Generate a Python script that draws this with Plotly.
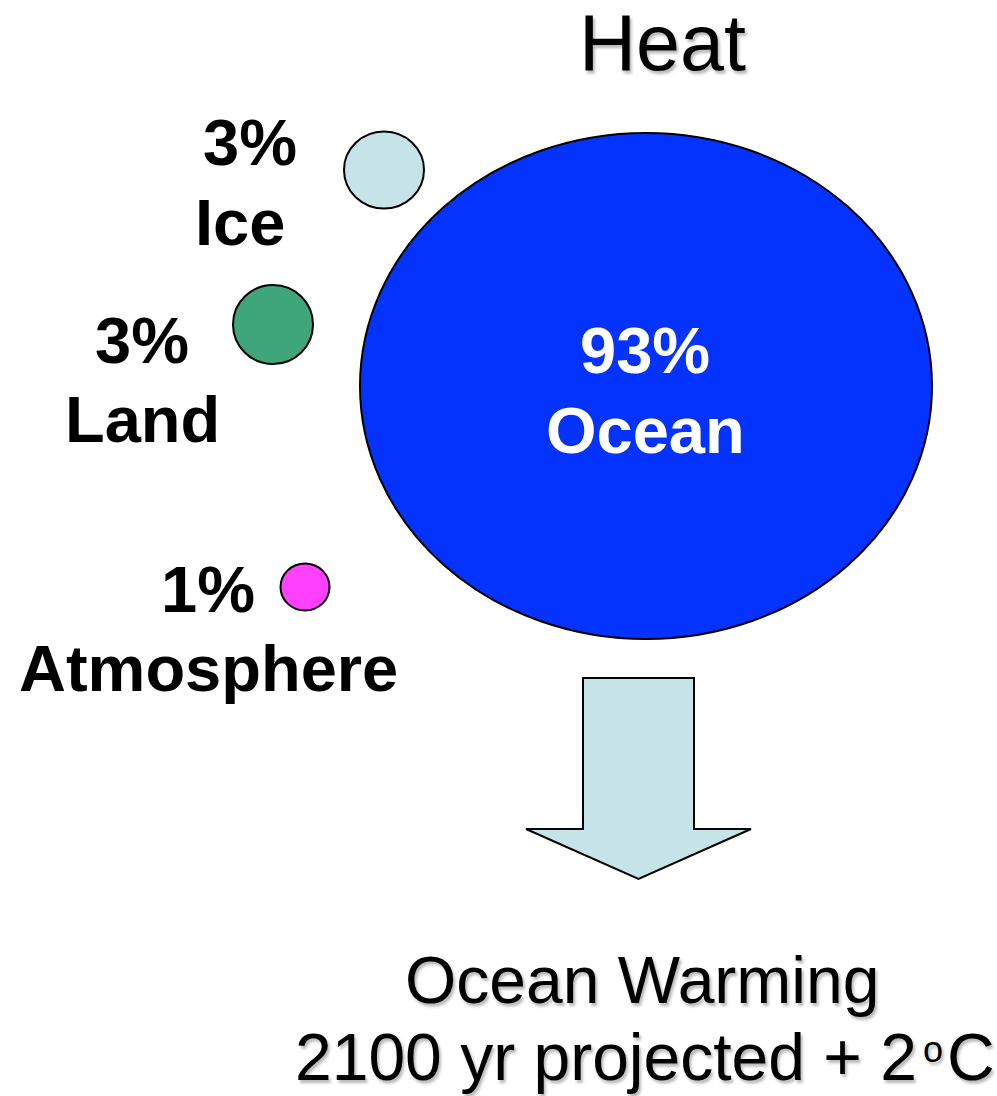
import plotly.graph_objects as go

# Share of the extra heat taken up by each part of the climate system
categories = ["Ocean", "Ice", "Land", "Atmosphere"]
heat_share = [93, 3, 3, 1]

title_text = "Heat"
outcome_title = "Ocean Warming"
outcome_main = "2100 yr projected + 2"
outcome_degree = "o"
outcome_unit = "C"

W, H = 997, 1096

# Bubble geometry (centre, radii) and styling per reservoir, in pixel space
bubbles = {
    "Ocean":      dict(cx=646, cy=386, rx=286, ry=253, fill="#0433FF"),
    "Ice":        dict(cx=384, cy=170, rx=40, ry=38.5, fill="#C6E4E7"),
    "Land":       dict(cx=273, cy=324.5, rx=40, ry=39.5, fill="#3EA679"),
    "Atmosphere": dict(cx=305, cy=587, rx=24.5, ry=23.5, fill="#FF40FF"),
}

# Label placement: (x of percentage, y of percentage, x of name, y of name, colour)
label_pos = {
    "Ocean":      (645, 350, 645, 430, "white"),
    "Ice":        (250, 142, 240, 222, "black"),
    "Land":       (142, 340, 142, 419, "black"),
    "Atmosphere": (208, 589, 208, 668, "black"),
}

FONT = "Liberation Sans, Arial, sans-serif"
SHADOW = "2px 3px 3px rgba(0,0,0,0.28)"

fig = go.Figure()

shapes = []
for name in categories:
    b = bubbles[name]
    shapes.append(dict(
        type="circle", xref="x", yref="y",
        x0=b["cx"] - b["rx"], x1=b["cx"] + b["rx"],
        y0=b["cy"] - b["ry"], y1=b["cy"] + b["ry"],
        fillcolor=b["fill"], line=dict(color="black", width=2),
        layer="below",
    ))

# Downward block arrow below the ocean bubble
shaft_l, shaft_r, shaft_top, shaft_bot = 583, 694, 678, 829
head_l, head_r, tip_x, tip_y = 526, 751, 638.5, 879
arrow_path = (
    f"M {shaft_l} {shaft_top} L {shaft_r} {shaft_top} L {shaft_r} {shaft_bot} "
    f"L {head_r} {shaft_bot} L {tip_x} {tip_y} L {head_l} {shaft_bot} "
    f"L {shaft_l} {shaft_bot} Z"
)
shapes.append(dict(type="path", xref="x", yref="y", path=arrow_path,
                   fillcolor="#C6E4E7", line=dict(color="black", width=2),
                   layer="below"))

annotations = []
for name, share in zip(categories, heat_share):
    xp, yp, xn, yn, col = label_pos[name]
    for txt, x, y in ((f"{share}%", xp, yp), (name, xn, yn)):
        annotations.append(dict(
            x=x, y=y, xref="x", yref="y", text=f"<b>{txt}</b>",
            showarrow=False, xanchor="center", yanchor="middle",
            font=dict(family=FONT, size=65, color=col),
        ))


def plain_text(txt, x, y, size, xanchor="center"):
    return dict(
        x=x, y=y, xref="x", yref="y", text=txt, showarrow=False,
        xanchor=xanchor, yanchor="middle",
        font=dict(family=FONT, size=size, color="black", shadow=SHADOW),
    )


annotations.append(plain_text(title_text, 662, 42, 79))
annotations.append(plain_text(outcome_title, 642, 980, 66))
# Second line: value with a small raised degree sign
annotations.append(plain_text(outcome_main, 919, 1057, 66, xanchor="right"))
annotations.append(plain_text(outcome_degree, 933, 1049, 36))
annotations.append(plain_text(outcome_unit, 945, 1057, 66, xanchor="left"))

fig.update_layout(
    width=W, height=H, autosize=False,
    margin=dict(l=0, r=0, t=0, b=0, pad=0),
    paper_bgcolor="white", plot_bgcolor="white",
    xaxis=dict(range=[0, W], visible=False, fixedrange=True),
    yaxis=dict(range=[H, 0], visible=False, fixedrange=True),
    shapes=shapes, annotations=annotations, showlegend=False,
)

fig.write_html("out.html", config={"displayModeBar": False})
